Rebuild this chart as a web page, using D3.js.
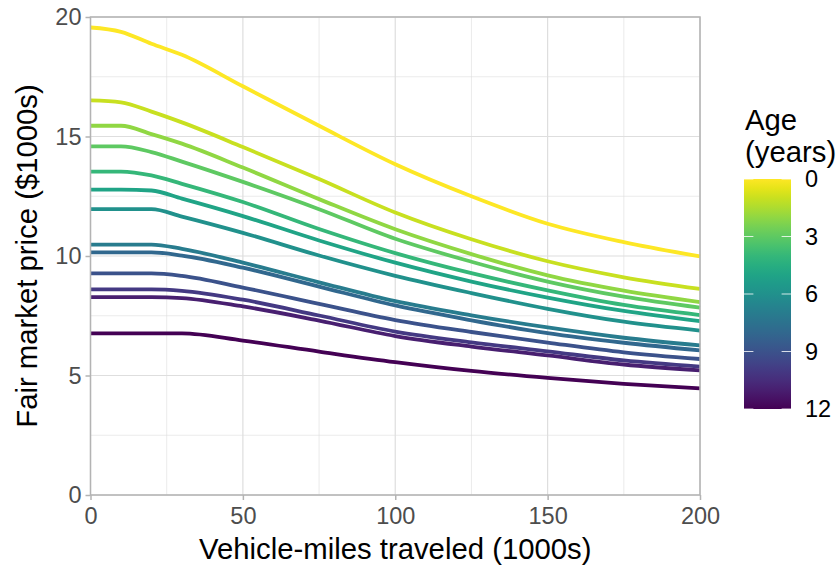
<!DOCTYPE html>
<html>
<head>
<meta charset="utf-8">
<script src="https://cdn.jsdelivr.net/npm/d3@7"></script>
<style>
  html, body { margin: 0; padding: 0; background: #fff; }
  svg { display: block; font-family: "Liberation Sans", Arial, sans-serif; }
</style>
</head>
<body>
<svg id="chart" width="838" height="568"></svg>
<script>
// Vehicle-miles traveled (1000s) at which prices are sampled
const miles = [0, 10, 20, 30, 50, 75, 100, 125, 150, 175, 200];

// Fair market price ($1000s) by vehicle age (years)
const priceAge0  = [19.56, 19.38, 18.88, 18.42, 17.10, 15.45, 13.84, 12.50, 11.35, 10.58, 9.98];
const priceAge1  = [16.51, 16.43, 16.04, 15.59, 14.56, 13.22, 11.82, 10.70, 9.78, 9.11, 8.62];
const priceAge2  = [15.45, 15.45, 15.10, 14.70, 13.70, 12.38, 11.12, 10.08, 9.19, 8.55, 8.07];
const priceAge3  = [14.59, 14.59, 14.35, 13.95, 13.10, 11.96, 10.72, 9.76, 8.93, 8.30, 7.84];
const priceAge4  = [13.53, 13.53, 13.37, 13.02, 12.26, 11.13, 10.12, 9.28, 8.56, 7.95, 7.53];
const priceAge5  = [12.78, 12.78, 12.74, 12.40, 11.67, 10.65, 9.72, 8.93, 8.26, 7.70, 7.27];
const priceAge6  = [11.96, 11.96, 11.96, 11.65, 10.97, 10.02, 9.17, 8.45, 7.79, 7.25, 6.88];
const priceAge7  = [10.48, 10.48, 10.48, 10.30, 9.72, 8.90, 8.11, 7.52, 7.01, 6.58, 6.26];
const priceAge8  = [10.15, 10.15, 10.15, 10.02, 9.51, 8.72, 7.93, 7.31, 6.77, 6.37, 6.05];
const priceAge9  = [9.27, 9.27, 9.27, 9.17, 8.68, 8.00, 7.32, 6.82, 6.38, 5.97, 5.69];
const priceAge10 = [8.60, 8.60, 8.60, 8.54, 8.17, 7.51, 6.84, 6.39, 6.01, 5.63, 5.37];
const priceAge11 = [8.28, 8.28, 8.28, 8.24, 7.89, 7.30, 6.65, 6.21, 5.84, 5.46, 5.21];
const priceAge12 = [6.76, 6.76, 6.76, 6.76, 6.46, 6.00, 5.56, 5.19, 4.90, 4.65, 4.46];

const ages = [0, 1, 2, 3, 4, 5, 6, 7, 8, 9, 10, 11, 12];
const pricesByAge = [priceAge0, priceAge1, priceAge2, priceAge3, priceAge4, priceAge5,
  priceAge6, priceAge7, priceAge8, priceAge9, priceAge10, priceAge11, priceAge12];

// Axis ticks and legend breaks
const xTicks = [0, 50, 100, 150, 200];
const xMinor = [25, 75, 125, 175];
const yTicks = [0, 5, 10, 15, 20];
const yMinor = [2.5, 7.5, 12.5, 17.5];
const ageBreaks = [0, 3, 6, 9, 12];

const svg = d3.select("#chart");
const panel = { left: 90.5, right: 700, top: 17, bottom: 495 };

const x = d3.scaleLinear().domain([0, 200]).range([panel.left, panel.right]);
const y = d3.scaleLinear().domain([0, 20]).range([panel.bottom, panel.top]);
const color = d3.scaleSequential(t => d3.interpolateViridis(t)).domain([12, 0]);

const gridColor = "#dedede";

// minor grid
const g = svg.append("g");
g.selectAll(".xminor").data(xMinor).join("line")
  .attr("x1", d => x(d)).attr("x2", d => x(d))
  .attr("y1", panel.top).attr("y2", panel.bottom)
  .attr("stroke", gridColor).attr("stroke-width", 0.6);
g.selectAll(".yminor").data(yMinor).join("line")
  .attr("y1", d => y(d)).attr("y2", d => y(d))
  .attr("x1", panel.left).attr("x2", panel.right)
  .attr("stroke", gridColor).attr("stroke-width", 0.6);
// major grid
g.selectAll(".xmajor").data(xTicks).join("line")
  .attr("x1", d => x(d)).attr("x2", d => x(d))
  .attr("y1", panel.top).attr("y2", panel.bottom)
  .attr("stroke", gridColor).attr("stroke-width", 1.2);
g.selectAll(".ymajor").data(yTicks).join("line")
  .attr("y1", d => y(d)).attr("y2", d => y(d))
  .attr("x1", panel.left).attr("x2", panel.right)
  .attr("stroke", gridColor).attr("stroke-width", 1.2);

// price curves, one per age
const line = d3.line()
  .x((d, i) => x(miles[i]))
  .y(d => y(d))
  .curve(d3.curveMonotoneX);

svg.append("g").selectAll("path").data(ages).join("path")
  .attr("d", a => line(pricesByAge[a]))
  .attr("fill", "none")
  .attr("stroke", a => color(a))
  .attr("stroke-width", 3.8)
  .attr("stroke-linejoin", "round")
  .attr("stroke-linecap", "butt");

// panel border
svg.append("rect")
  .attr("x", panel.left).attr("y", panel.top)
  .attr("width", panel.right - panel.left).attr("height", panel.bottom - panel.top)
  .attr("fill", "none").attr("stroke", "#b3b3b3").attr("stroke-width", 1.5);

// axes
const axisColor = "#b3b3b3";
const textGray = "#4d4d4d";
const xAxis = svg.append("g")
  .attr("transform", `translate(0,${panel.bottom})`)
  .call(d3.axisBottom(x).tickValues(xTicks).tickSize(5).tickPadding(7).tickFormat(d3.format("d")));
const yAxis = svg.append("g")
  .attr("transform", `translate(${panel.left},0)`)
  .call(d3.axisLeft(y).tickValues(yTicks).tickSize(5).tickPadding(4).tickFormat(d3.format("d")));
[xAxis, yAxis].forEach(ax => {
  ax.select(".domain").remove();
  ax.selectAll(".tick line").attr("stroke", axisColor).attr("stroke-width", 1.5);
  ax.selectAll(".tick text")
    .attr("fill", textGray)
    .style("font-size", "23.5px")
    .style("font-family", "'Liberation Sans', Arial, sans-serif");
});

// axis titles
svg.append("text")
  .attr("x", (panel.left + panel.right) / 2).attr("y", 559)
  .attr("text-anchor", "middle")
  .style("font-size", "29.3px").attr("fill", "#000")
  .text("Vehicle-miles traveled (1000s)");
svg.append("text")
  .attr("transform", `translate(37,${(panel.top + panel.bottom) / 2}) rotate(-90)`)
  .attr("text-anchor", "middle")
  .style("font-size", "29.3px").attr("fill", "#000")
  .text("Fair market price ($1000s)");

// colour bar legend
const bar = { x: 744, y: 179, w: 47, h: 230 };
const defs = svg.append("defs");
const grad = defs.append("linearGradient").attr("id", "ageGrad")
  .attr("x1", 0).attr("x2", 0).attr("y1", 0).attr("y2", 1);
d3.range(0, 12.01, 0.5).forEach(a => {
  grad.append("stop").attr("offset", a / 12).attr("stop-color", color(a));
});
const legend = svg.append("g");
legend.append("text").attr("x", 745).attr("y", 130)
  .style("font-size", "29.3px").attr("fill", "#000").text("Age");
legend.append("text").attr("x", 745).attr("y", 162)
  .style("font-size", "29.3px").attr("fill", "#000").text("(years)");
legend.append("rect")
  .attr("x", bar.x).attr("y", bar.y).attr("width", bar.w).attr("height", bar.h)
  .attr("fill", "url(#ageGrad)");
const ageY = d3.scaleLinear().domain([0, 12]).range([bar.y, bar.y + bar.h]);
const tickLen = bar.w / 5;
legend.selectAll(".lt").data(ageBreaks).join("line")
  .attr("x1", bar.x).attr("x2", bar.x + tickLen)
  .attr("y1", d => ageY(d)).attr("y2", d => ageY(d))
  .attr("stroke", "#fff").attr("stroke-width", 1).attr("stroke-opacity", 0.8);
legend.selectAll(".rt").data(ageBreaks).join("line")
  .attr("x1", bar.x + bar.w - tickLen).attr("x2", bar.x + bar.w)
  .attr("y1", d => ageY(d)).attr("y2", d => ageY(d))
  .attr("stroke", "#fff").attr("stroke-width", 1).attr("stroke-opacity", 0.8);
legend.selectAll(".lbl").data(ageBreaks).join("text")
  .attr("x", 805).attr("y", d => ageY(d))
  .attr("dy", "0.35em")
  .style("font-size", "23.5px").attr("fill", "#000")
  .text(d => d);
</script>
</body>
</html>
